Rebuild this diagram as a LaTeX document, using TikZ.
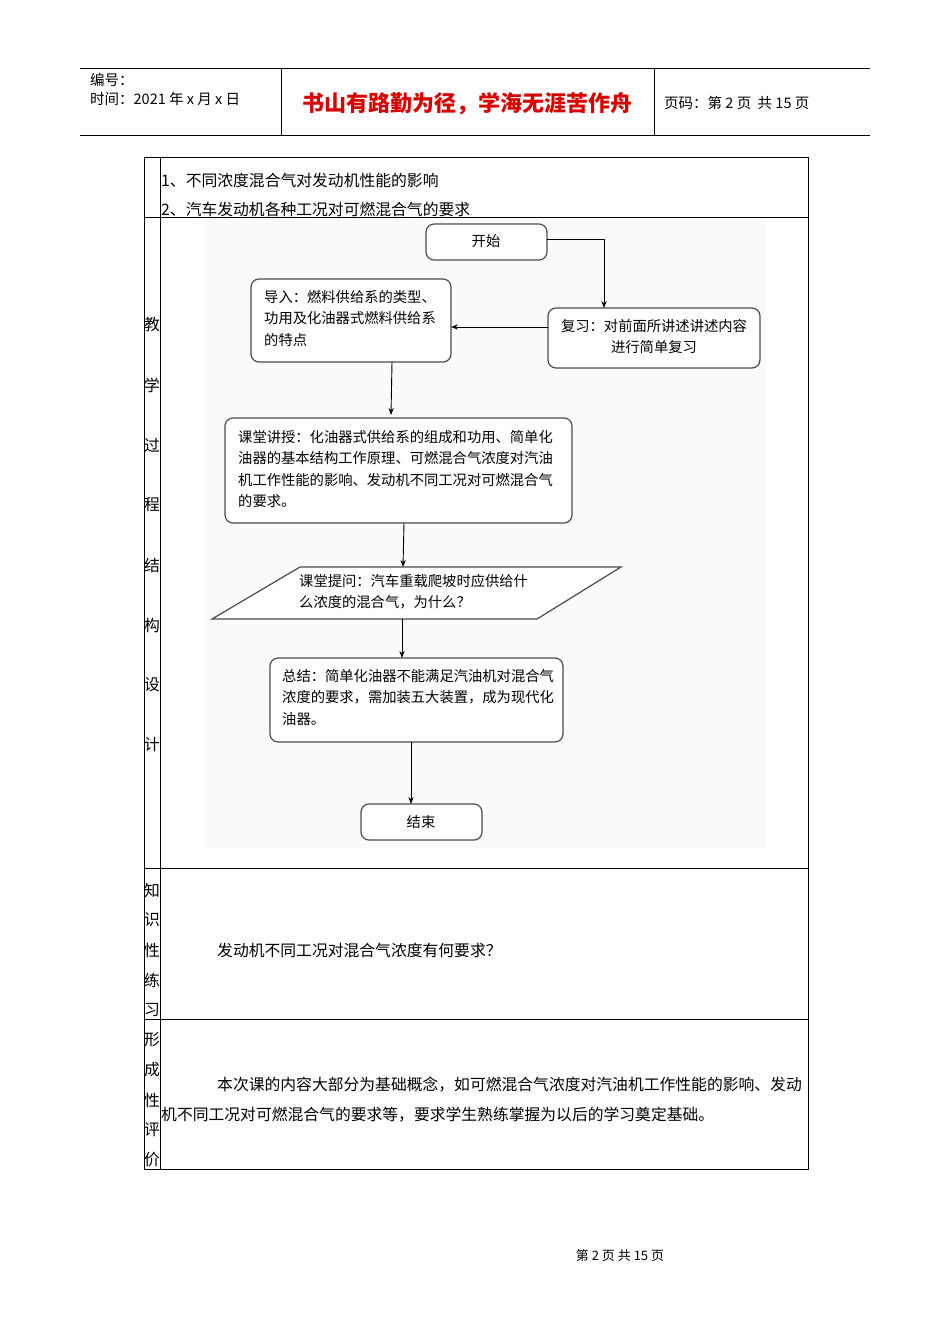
\documentclass[tikz,border=0pt]{standalone}
\usepackage{fontspec}
\setmainfont{Noto Sans CJK SC}
\usetikzlibrary{arrows.meta}
\begin{document}
\begin{tikzpicture}[x=1pt,y=-1pt,
  box/.style={draw=black!70,line width=1.2pt,rounded corners=8pt,fill=white},
  ft/.style={font=\fontsize{14.3}{21.5}\selectfont,align=left,anchor=north west,inner sep=0pt},
  tt/.style={font=\fontsize{15.8}{16}\selectfont,anchor=west,inner sep=0pt},
  ht/.style={font=\fontsize{14.5}{16}\selectfont,anchor=west,inner sep=0pt},
  arr/.style={-{Stealth[length=7pt]},line width=0.9pt}]
\useasboundingbox (0,0) rectangle (950,1344);
% header
\draw[line width=0.6pt] (80,68) -- (870,68) (80,135) -- (870,135) (281,68) -- (281,135) (654,68) -- (654,135);
\node[ht] (h1) at (90,80) {编号：};
\node[ht] (h2) at (90,99) {时间：2021 年 x 月 x 日};
\node[font=\fontsize{22}{24}\selectfont\bfseries,text=red!85!black] (htt) at (467,104) {书山有路勤为径，学海无涯苦作舟};
\node[ht] (h3) at (664,103) {页码：第 2 页\ \ 共 15 页};
% table
\draw[line width=0.6pt] (144,157) rectangle (808,1169);
\draw[line width=0.6pt] (160,157) -- (160,1169) (144,217) -- (808,217) (144,868) -- (808,868) (144,1019) -- (808,1019);
\fill[black!2] (205,218) rectangle (765,848);
\node[tt] (r1) at (161,180) {1、不同浓度混合气对发动机性能的影响};
\node[tt] (r2) at (161,209) {2、汽车发动机各种工况对可燃混合气的要求};
\foreach \c [count=\i] in {教,学,过,程,结,构,设,计} \node[tt,anchor=center] (a\i) at (152,265+60*\i) {\c};
\foreach \c [count=\i] in {知,识,性,练,习} \node[tt,anchor=center] (b\i) at (152,860+30*\i) {\c};
\foreach \c [count=\i] in {形,成,性,评,价} \node[tt,anchor=center] (c\i) at (152,1010+30*\i) {\c};
\node[tt] (q) at (217,950) {发动机不同工况对混合气浓度有何要求？};
\node[tt] (e1) at (217,1085) {本次课的内容大部分为基础概念，如可燃混合气浓度对汽油机工作性能的影响、发动};
\node[tt] (e2) at (161,1115) {机不同工况对可燃混合气的要求等，要求学生熟练掌握为以后的学习奠定基础。};
% flowchart
\draw[box] (426,224) rectangle (547,260); \node[font=\fontsize{14.3}{15}\selectfont] (n1) at (486,241) {开始};
\draw[box] (548,308) rectangle (760,368); \node[font=\fontsize{14.3}{21}\selectfont,align=center] (n2) at (654,337) {复习：对前面所讲述讲述内容\\进行简单复习};
\draw[box] (251,279) rectangle (451,362); \node[ft] (n3) at (264,290) {导入：燃料供给系的类型、\\功用及化油器式燃料供给系\\的特点};
\draw[box] (225,418) rectangle (572,523); \node[ft] (n4) at (238,430) {课堂讲授：化油器式供给系的组成和功用、简单化\\油器的基本结构工作原理、可燃混合气浓度对汽油\\机工作性能的影响、发动机不同工况对可燃混合气\\的要求。};
\draw[draw=black!70,line width=1.2pt,fill=white] (212,619) -- (300,567) -- (621,567) -- (537,619) -- cycle;
\node[ft] (n5) at (299,574) {课堂提问：汽车重载爬坡时应供给什\\么浓度的混合气，为什么？};
\draw[box] (270,658) rectangle (563,742); \node[ft] (n6) at (282,669) {总结：简单化油器不能满足汽油机对混合气\\浓度的要求，需加装五大装置，成为现代化\\油器。};
\draw[box] (361,804) rectangle (482,840); \node[font=\fontsize{14.3}{15}\selectfont] (n7) at (421,822) {结束};
\coordinate (s1) at (547,239); \coordinate (k1) at (604,239); \coordinate (t1) at (604,308);
\draw[arr] (s1) -- (k1) -- (t1);
\coordinate (s2) at (548,327); \coordinate (t2) at (451,327); \draw[arr] (s2) -- (t2);
\coordinate (s3) at (392,362); \coordinate (t3) at (391,415); \draw[arr] (s3) -- (t3);
\coordinate (s4) at (404,523); \coordinate (t4) at (403,567); \draw[arr] (s4) -- (t4);
\coordinate (s5) at (402,619); \coordinate (t5) at (402,658); \draw[arr] (s5) -- (t5);
\coordinate (s6) at (411,742); \coordinate (t6) at (411,804); \draw[arr] (s6) -- (t6);
\node[font=\fontsize{13}{14}\selectfont] (ft) at (620,1256) {第\ 2\ 页\ 共\ 15\ 页};
\end{tikzpicture}
\end{document}
